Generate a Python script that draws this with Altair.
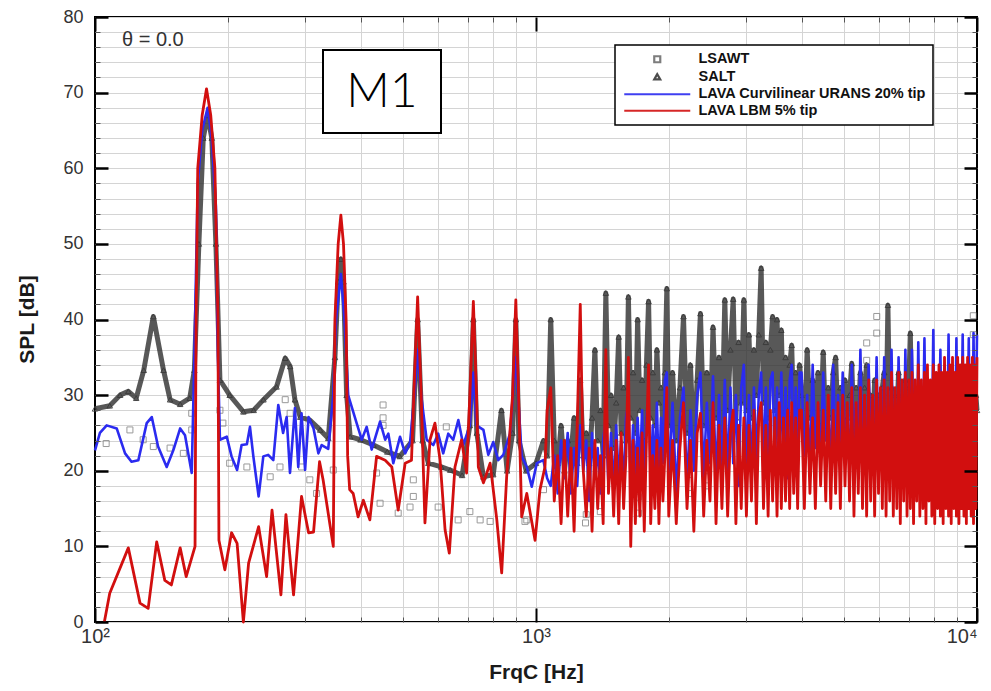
import altair as alt
import pandas as pd

# ---------------- data ----------------
SERIES = ["LSAWT", "SALT", "LAVA Curvilinear URANS 20% tip", "LAVA LBM 5% tip"]

# LSAWT squares
lsawt_f = [106, 120, 128.6, 135.6, 148, 158.6, 165.7, 165.7, 192, 195,
           202, 221, 249.6, 262.7, 270, 277, 294, 307, 318, 347,
           435, 443, 450, 450, 450, 487, 518, 527, 527, 600,
           626, 666, 708, 747, 787, 944, 953, 1040, 1295, 1300,
           1399, 1706, 1706, 1706, 1840, 1840, 2225, 2225, 2440, 2440,
           2600, 2600, 5622, 5622, 5925, 5925, 9808, 9808]
lsawt_v = [23.6, 25.4, 24.1, 23.2, 23.0, 22.3, 25.4, 27.6, 28.0, 26.3,
           21.0, 20.5, 19.2, 20.5, 29.4, 27.6, 20.5, 18.8, 17.0, 20.1,
           19.7, 15.7, 28.7, 27.0, 26.0, 14.4, 15.2, 16.6, 18.8, 15.2,
           25.8, 13.5, 14.6, 13.5, 13.3, 13.3, 13.5, 17.5, 13.1, 14.2,
           14.6, 14.4, 16.5, 18.5, 19.7, 21.5, 17.0, 19.5, 18.0, 20.0,
           21.0, 23.0, 34.6, 36.9, 38.2, 40.4, 38.0, 40.5]

# low-frequency parts (100 - ~1050 Hz)
salt_lo_f = [100, 108, 114, 119, 124, 129, 135.6, 143, 148, 156,
             164, 168, 172, 176, 180, 184, 188, 192, 202, 217,
             229, 241, 258, 270, 277, 284, 292, 307, 324, 338,
             350, 356, 361, 366, 372, 379, 400, 428, 460, 491,
             525, 539, 553, 570, 610, 639, 680, 708, 721, 734,
             760, 800, 835, 860, 885, 900, 915, 950, 1000, 1040]
salt_lo_v = [28.2, 28.6, 30.0, 30.5, 29.6, 33.3, 40.4, 33.3, 29.4, 28.8,
             29.6, 33.3, 50, 64, 67, 64, 50, 32.0, 30.0, 27.8,
             28.0, 29.4, 31.1, 34.9, 33.8, 29.4, 27.1, 26.7, 25.4, 24.3,
             35, 45, 48, 45, 30, 24.5, 24.1, 23.4, 22.5, 21.9,
             24, 40, 24, 21.0, 20.5, 20.1, 19.4, 26, 40, 25,
             19.2, 19.5, 28, 20, 25, 40, 24, 20, 21, 24]

blue_lo_f = [100, 102.6, 106.3, 112, 117, 121, 125.4, 131, 134.5, 139,
             145.4, 150.5, 156, 160, 165.7, 168, 171, 175, 180, 184,
             188, 190, 192, 199, 204, 210, 215, 221, 224.6, 228.6,
             235, 240.8, 247, 253.7, 260.4, 267, 272, 276.8, 284, 289,
             294, 299.5, 305, 313, 321, 326.6, 338, 347, 352, 361,
             368, 375, 392, 402.5, 413, 424, 443, 455, 462.6, 474.7,
             491.6, 505, 518, 530, 539, 549, 565, 585, 600, 616,
             632.6, 649, 666.6, 684, 708, 721, 733, 760, 779.5, 800,
             821, 843, 873, 900, 928, 953, 978, 1004, 1039]
blue_lo_v = [22.7, 25.0, 26.0, 25.6, 22.3, 21.2, 21.4, 26.3, 27.1, 23.2,
             20.5, 22.7, 25.6, 24.7, 19.7, 35, 58, 65, 68, 64,
             55, 35, 24.1, 24.5, 21.9, 20.1, 23.4, 23.5, 25.8, 21.9,
             16.6, 21.9, 22.1, 21.4, 28.7, 25.0, 27.1, 19.7, 28.3, 20.5,
             27.6, 20.1, 27.1, 25.6, 22.3, 23.4, 22.9, 30, 40, 46,
             40, 30, 26.3, 24.1, 25.8, 22.8, 26.5, 24.1, 24.9, 21.0,
             24.5, 22.3, 23.7, 30, 36, 30, 24.1, 23.4, 24.9, 22.3,
             24.9, 24.1, 26.7, 23.4, 26, 33, 26, 25.4, 22.1, 23.8,
             21.4, 22.1, 24.9, 35, 21.9, 20.5, 17.9, 21.0, 21.4]

red_lo_f = [105, 108, 119, 126.5, 132, 138, 144, 149, 156, 161,
            168.6, 169.5, 171, 175, 179, 183, 187, 190, 191, 197,
            204, 210, 217, 223, 235, 245, 252, 264, 271, 282,
            294, 305, 313, 323, 329, 347, 350, 356, 361, 366,
            371, 374, 378, 385, 395, 406, 420, 435, 455, 471,
            487, 505, 522, 530, 539, 549, 560, 575, 590, 606,
            622, 636, 655, 678, 696, 708, 721, 733, 740, 760,
            787, 815, 836, 858, 885, 900, 915, 928, 953, 995,
            1021, 1048]
red_lo_v = [0, 3.8, 9.8, 2.5, 1.8, 10.6, 5.5, 4.9, 9.8, 6.0,
            10, 40, 60, 67, 70.5, 67, 60, 40, 10.8, 6.9,
            11.8, 10.4, 0, 7.8, 12.6, 6.0, 14.8, 3.6, 14.2, 3.6,
            16.6, 11.8, 11.9, 21.2, 18.8, 10.0, 40, 50, 53.8, 50,
            40, 22, 17.5, 17.0, 13.9, 16.1, 13.5, 21.9, 21.4, 20.5,
            14.8, 21.0, 21.4, 32, 43, 30, 13.1, 24.1, 26.3, 21.4,
            12.2, 9.1, 20.5, 24.1, 19.7, 30, 42.4, 30, 20.5, 18.4,
            21.0, 13.5, 6.5, 19.2, 30, 42.6, 28, 13.9, 17.0, 10.8,
            17.5, 20.5]

# high-frequency bins (shared by the three dense spectra)
f_hi = [1060, 1080, 1100, 1120, 1140, 1160, 1180, 1200, 1220, 1240,
        1260, 1280, 1300, 1320, 1340, 1360, 1380, 1400, 1420, 1440,
        1460, 1480, 1500, 1520, 1540, 1560, 1580, 1600, 1620, 1640,
        1660, 1680, 1700, 1720, 1740, 1760, 1780, 1800, 1820, 1840,
        1860, 1880, 1900, 1920, 1940, 1960, 1980,
        2000, 2040, 2080, 2120, 2160, 2200, 2240, 2280, 2320, 2360,
        2400, 2440, 2480, 2520, 2560, 2600, 2640, 2680, 2720, 2760,
        2800, 2840, 2880, 2920, 2960, 3000, 3040, 3080, 3120, 3160,
        3200, 3240, 3280, 3320, 3360, 3400, 3440, 3480, 3520, 3560,
        3600, 3640, 3680, 3720, 3760, 3800, 3840, 3880, 3920, 3960,
        4000, 4060, 4120, 4180, 4240, 4300, 4360, 4420, 4480, 4540,
        4600, 4660, 4720, 4780, 4840, 4900, 4960, 5020, 5080, 5140,
        5200, 5260, 5320, 5380, 5440, 5500, 5560, 5620, 5680, 5740,
        5800, 5860, 5920, 5980, 6040, 6100, 6160, 6220, 6280, 6340,
        6400, 6460, 6520, 6580, 6640, 6700, 6760, 6820, 6880, 6940,
        7000, 7060, 7120, 7180, 7240, 7300, 7360, 7420, 7480, 7540,
        7600, 7660, 7720, 7780, 7840, 7900, 7960, 8020, 8080, 8140,
        8200, 8260, 8320, 8380, 8440, 8500, 8560, 8620, 8680, 8740,
        8800, 8860, 8920, 8980, 9040, 9100, 9160, 9220, 9280, 9340,
        9400, 9460, 9520, 9580, 9640, 9700, 9760, 9820, 9880, 9940,
        10000]

red_hi = [28, 31, 16, 22, 13, 24, 14, 23, 12, 26,
          42, 20, 14, 23, 12, 24, 15, 22, 13, 36,
          17, 23, 14, 24, 13, 25, 15, 22, 35, 10,
          24, 13, 23, 14, 25, 12, 24, 34, 13, 22,
          15, 24, 13, 23, 16, 22, 31,
          14, 24, 13, 23, 29, 15, 24, 12, 25, 27.6,
          14, 24, 16, 29, 13, 26, 15, 27, 14, 25,
          28, 13, 26, 15, 27, 14, 26, 16, 28, 13,
          27, 29, 15, 26, 14, 28, 16, 27, 14, 29,
          15, 27, 16, 28, 15, 29, 17, 27, 15, 28,
          28, 15, 29, 17, 27, 15, 29, 18, 28, 16,
          30, 15, 28, 17, 29, 15, 30, 18, 29, 16,
          31, 14, 29, 17, 31, 15, 30, 14, 32, 16,
          30, 14, 32, 17, 31, 15, 32, 14, 31, 16,
          33, 14, 31, 15, 33, 13, 32, 16, 33, 14,
          32, 15, 33, 13, 32, 16, 34, 14, 32, 15,
          33, 13, 34, 16, 32, 14, 34, 13, 33, 15,
          34, 14, 33, 13, 35, 15, 33, 14, 34, 13,
          35, 15, 33, 14, 35, 13, 34, 15, 35, 14,
          34, 13, 35, 15, 34, 14, 35, 13, 34, 15,
          35]

blue_hi = [19, 18, 22, 17, 24, 19, 25, 17, 23, 18,
           26, 20, 24, 16, 25, 19, 23, 17, 24, 27,
           18, 25, 17, 26, 19, 24, 18, 27, 29, 18,
           26, 19, 27, 20, 28, 18, 27, 30, 19, 26,
           20, 29, 18, 27, 21, 32, 33,
           19, 29, 17, 27, 31, 18, 28, 20, 30, 33,
           19, 29, 21, 32.5, 18, 30, 20, 32, 19, 31,
           21, 30, 18, 31, 34, 20, 30, 19, 31, 21,
           30, 33, 20, 31, 19, 32, 33, 20, 31, 21,
           33, 20, 31, 19, 32, 34, 21, 31, 20, 33,
           33, 22, 30, 20, 34, 23, 29, 21, 33, 24,
           28, 20, 34, 22, 30, 21, 33, 24, 27, 20,
           34, 23, 29, 21, 36, 22, 27, 20, 34, 24,
           26, 21, 35, 22, 27, 20, 35, 23, 26, 21,
           36, 22, 25, 20, 35, 24, 26, 21, 36, 22,
           25, 20, 36, 23, 26, 21, 37, 22, 25, 24,
           37.5, 21, 26, 22, 25, 23, 38.6, 21, 26, 22,
           25, 36, 22, 25, 21, 26, 23, 38, 22, 25,
           21, 26, 22, 37.5, 23, 25, 21, 26, 38, 22,
           25, 21, 26, 37.5, 22, 25, 21, 38.2, 23, 26,
           38]

salt_hi = [22, 40, 24, 21, 26, 20, 24, 22, 27, 21,
           32, 22, 25, 21, 27, 36, 24, 28, 22, 43.5,
           26, 30, 23, 29, 37.7, 25, 31, 24, 43, 27,
           33, 25, 40, 28, 32, 24, 34, 42.4, 27, 33,
           26, 36, 29, 31, 26, 33, 44.1,
           26, 33, 24, 31, 40.4, 25, 34, 23, 32, 40.8,
           26, 33, 24, 39, 27, 35, 25, 42.6, 28, 36,
           42.7, 27, 37, 29, 42.6, 28, 38, 27, 36, 30,
           38, 46.8, 29, 37, 27, 36, 40.4, 28, 40, 30,
           38.6, 27, 35, 28, 34, 36.6, 27, 33, 28, 34,
           30, 25, 36, 27, 32, 24, 33, 26, 35.7, 25,
           31, 27, 33, 35, 26, 31, 25, 32, 27, 30,
           34.2, 25, 31, 27, 33, 24, 31, 34, 26, 30,
           25, 32, 27, 30, 24, 31, 33, 26, 41.9, 27,
           31, 24, 30, 27, 33, 25, 30, 26, 32, 27,
           31, 38.2, 26, 30, 24, 29, 26, 31, 25, 29,
           24, 30, 26, 29, 25, 30, 24, 29, 26, 30,
           25, 29, 24, 30, 26, 29, 25, 31, 24, 29,
           26, 30, 25, 29, 24, 30, 26, 29, 25, 31,
           24, 29, 26, 30, 25, 29, 24, 31, 26, 30,
           28]

# ---------------- tables ----------------
def table(fs, vs, name):
    rows = [{"f": f, "v": v, "series": name} for f, v in zip(fs, vs)]
    return pd.DataFrame(rows)

lsawt_df = table(lsawt_f, lsawt_v, SERIES[0])
salt_df = table(salt_lo_f + f_hi, salt_lo_v + salt_hi, SERIES[1])
blue_df = table(blue_lo_f + f_hi, blue_lo_v + blue_hi, SERIES[2])
red_df = table(red_lo_f + f_hi, red_lo_v + red_hi, SERIES[3])
one = pd.DataFrame({"k": [0]})

# ---------------- styling ----------------
FONT = "Liberation Sans"
COLORS = ["#707070", "#3a3a3a", "#2b2bf0", "#d20f0f"]
SHAPES = ["square", "triangle-up", "M-11,0H11", "M-11,0H11"]

x_scale = alt.Scale(type="log", domain=[100, 10000], nice=False)
y_scale = alt.Scale(domain=[0, 80], nice=False)
color = alt.Color("series:N", scale=alt.Scale(domain=SERIES, range=COLORS), title=None)
shape = alt.Shape("series:N", scale=alt.Scale(domain=SERIES, range=SHAPES), title=None)

minor_x = [200, 300, 400, 500, 600, 700, 800, 900,
           2000, 3000, 4000, 5000, 6000, 7000, 8000, 9000]
grid_x = minor_x + [1000]
grid_y = list(range(0, 81, 2))
major_y = list(range(0, 81, 10))
minor_y = [v for v in grid_y if v % 10]

x_grid = alt.Axis(values=grid_x, grid=True, gridColor="#d4d4d4", gridWidth=1, ticks=False,
                  labels=False, domain=False, title="FrqC [Hz]", titleFont=FONT, titleFontSize=21,
                  titleFontWeight="bold", titleColor="#1a1a1a", titleX=441, titleY=50,
                  titleAlign="center", titleBaseline="middle", zindex=0)
y_grid = alt.Axis(values=grid_y, grid=True, gridColor="#d4d4d4", gridWidth=1, ticks=False,
                  labels=False, domain=False, title="SPL [dB]", titleFont=FONT, titleFontSize=21,
                  titleFontWeight="bold", titleColor="#1a1a1a", titleX=-68, titleY=302,
                  titleAngle=270, titleAlign="center", titleBaseline="middle", zindex=0)

LABEL_EXPR = "datum.value < 500 ? '10²' : datum.value < 5000 ? '10³' : '10⁴'"
x_major_b = alt.Axis(values=[100, 1000, 10000], orient="bottom", offset=-14, tickSize=14,
                     tickWidth=2, tickColor="black", domain=False, grid=False, labels=True,
                     labelExpr=LABEL_EXPR, labelFont=FONT, labelFontSize=20, labelColor="#333333",
                     labelPadding=4, labelFlush=False, labelOverlap=False,
                     labelAlign=alt.condition("datum.value > 5000", alt.value("right"), alt.value("center")),
                     title=None, zindex=1)
x_major_t = alt.Axis(values=[100, 1000, 10000], orient="top", offset=-14, tickSize=14,
                     tickWidth=2, tickColor="black", domain=False, grid=False, labels=False,
                     title=None, zindex=1)
x_minor_b = alt.Axis(values=minor_x, orient="bottom", offset=-5, tickSize=5, tickWidth=1,
                     tickColor="#555555", domain=False, grid=False, labels=False, title=None, zindex=1)
x_minor_t = alt.Axis(values=minor_x, orient="top", offset=-5, tickSize=5, tickWidth=1,
                     tickColor="#555555", domain=False, grid=False, labels=False, title=None, zindex=1)
y_major_l = alt.Axis(values=major_y, orient="left", offset=-13, tickSize=13, tickWidth=2.5,
                     tickColor="black", domain=False, grid=False, labels=True, labelFont=FONT,
                     labelFontSize=18, labelColor="#333333", labelPadding=12, title=None, zindex=1)
y_major_r = alt.Axis(values=major_y, orient="right", offset=-13, tickSize=13, tickWidth=2.5,
                     tickColor="black", domain=False, grid=False, labels=False, title=None, zindex=1)
y_minor_l = alt.Axis(values=minor_y, orient="left", offset=-5, tickSize=5, tickWidth=1,
                     tickColor="#555555", domain=False, grid=False, labels=False, title=None, zindex=1)
y_minor_r = alt.Axis(values=minor_y, orient="right", offset=-5, tickSize=5, tickWidth=1,
                     tickColor="#555555", domain=False, grid=False, labels=False, title=None, zindex=1)


def xy(xaxis, yaxis):
    return dict(x=alt.X("f:Q", scale=x_scale, axis=xaxis),
                y=alt.Y("v:Q", scale=y_scale, axis=yaxis))


salt_band = alt.Chart(salt_df).mark_line(
    color="#2e2e2e", strokeWidth=5, strokeJoin="round", opacity=0.8
).encode(**xy(x_grid, y_grid))

salt_pts = alt.Chart(salt_df).mark_point(
    filled=False, size=30, opacity=0.9
).encode(color=color, shape=shape, strokeWidth=alt.value(1), **xy(x_major_b, y_major_l))

lsawt_pts = alt.Chart(lsawt_df).mark_point(
    filled=False, size=36
).encode(color=color, shape=shape, strokeWidth=alt.value(1), **xy(x_minor_b, y_minor_l))

blue_line = alt.Chart(blue_df).mark_line(
    strokeWidth=2.6, strokeJoin="round"
).encode(color=color, **xy(x_major_t, y_major_r))

red_line = alt.Chart(red_df).mark_line(
    strokeWidth=2.8, strokeJoin="round"
).encode(color=color, **xy(x_minor_t, y_minor_r))

theta_txt = alt.Chart(one).mark_text(
    text="θ = 0.0", align="left", baseline="middle", font=FONT, fontSize=20, color="#333333"
).encode(x=alt.value(27), y=alt.value(23))

m1_box = alt.Chart(one).mark_rect(
    fill="white", stroke="black", strokeWidth=2
).encode(x=alt.value(228), x2=alt.value(346), y=alt.value(33), y2=alt.value(116))

m1_txt = alt.Chart(one).mark_text(
    text="M1", align="center", baseline="middle", font="Lato", fontWeight=300,
    fontSize=48, color="black"
).encode(x=alt.value(287), y=alt.value(76))

chart = alt.layer(
    salt_band, salt_pts, lsawt_pts, blue_line, red_line, theta_txt, m1_box, m1_txt
).resolve_axis(
    x="independent", y="independent"
).properties(
    width=882, height=605,
    padding={"left": 87, "top": 9, "right": 6, "bottom": 61},
    autosize=alt.AutoSizeParams(type="none"),
).configure(
    font=FONT
).configure_view(
    stroke="black", strokeWidth=2
).configure_legend(
    orient="none", legendX=520, legendY=28, strokeColor="black", strokeWidth=1.5,
    fillColor="white", padding=7, cornerRadius=0, labelFont=FONT, labelFontSize=14.5,
    labelFontWeight="bold", labelColor="#111111", labelLimit=400, labelOffset=34,
    symbolOffset=28, rowPadding=1.5, symbolSize=36, symbolStrokeWidth=2.2,
    symbolFillColor="transparent"
)

chart.save("out.html", embed_options={"renderer": "svg", "actions": False})
